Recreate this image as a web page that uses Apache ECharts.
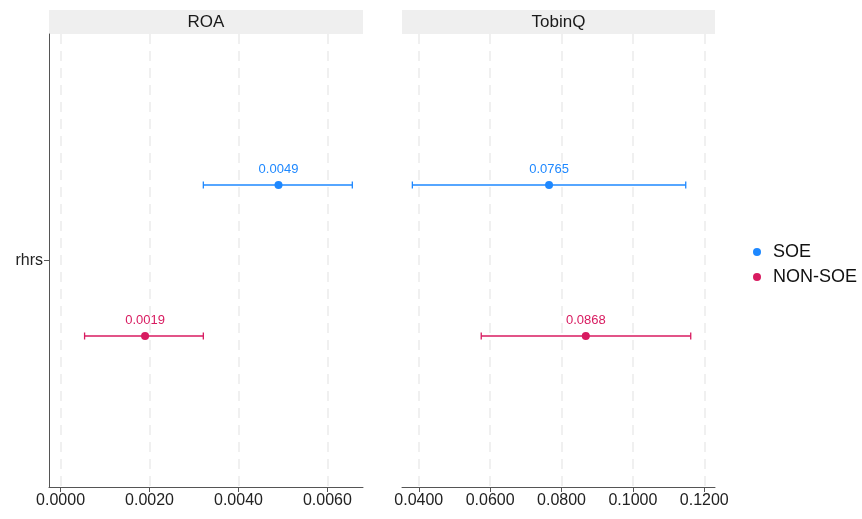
<!DOCTYPE html>
<html>
<head>
<meta charset="utf-8">
<script src="https://cdn.jsdelivr.net/npm/echarts@6/dist/echarts.min.js"></script>
<style>html,body{margin:0;padding:0;background:#fff;}#c{width:862px;height:519px;}</style>
</head>
<body>
<div id="c"></div>
<script>
// ---- data ----
const categories = ['rhrs'];
const panels = ['ROA', 'TobinQ'];
const groups = ['SOE', 'NON-SOE'];
const roaEst = [0.0049, 0.0019];
const roaLow = [0.00321, 0.00054];
const roaHigh = [0.00656, 0.00321];
const tqEst = [0.0765, 0.0868];
const tqLow = [0.0382, 0.0575];
const tqHigh = [0.1148, 0.1162];
const roaTicks = [0.0000, 0.0020, 0.0040, 0.0060];
const tqTicks = [0.0400, 0.0600, 0.0800, 0.1000, 0.1200];

// ---- style ----
const colors = ['#1E88FF', '#D81B60'];
const groupOffset = [1, -1];
const FONT = 'Liberation Sans, Arial, Helvetica, sans-serif';
const panelData = [
  { est: roaEst, low: roaLow, high: roaHigh, ticks: roaTicks, min: -0.00026, max: 0.0068, left: 49, right: 499 },
  { est: tqEst, low: tqLow, high: tqHigh, ticks: tqTicks, min: 0.0353, max: 0.1230, left: 402, right: 147 }
];

const chart = echarts.init(document.getElementById('c'), null, { renderer: 'canvas' });

const grids = [], xAxes = [], yAxes = [], series = [], graphics = [];
panelData.forEach((p, pi) => {
  grids.push({ left: p.left, right: p.right, top: 34, bottom: 32, containLabel: false });
  xAxes.push({
    type: 'value', gridIndex: pi, min: p.min, max: p.max,
    axisLine: { show: true, onZero: false, lineStyle: { color: '#555', width: 1 } },
    axisTick: { show: true, length: 5, customValues: p.ticks, lineStyle: { color: '#555' } },
    axisLabel: { customValues: p.ticks, color: '#222', fontSize: 16, fontFamily: FONT, margin: 6,
      formatter: v => v.toFixed(4) },
    splitLine: { show: true, lineStyle: { color: '#EBEBEB', width: 1.5, type: [10, 7] } }
  });
  yAxes.push({
    type: 'value', gridIndex: pi, min: -3, max: 3,
    axisLine: { show: pi === 0, onZero: false, lineStyle: { color: '#555', width: 1 } },
    axisTick: { show: pi === 0, length: 5, customValues: [0], lineStyle: { color: '#555' } },
    axisLabel: { show: pi === 0, customValues: [0], color: '#222', fontSize: 16, fontFamily: FONT, margin: 6,
      formatter: v => categories[Math.round(v)] || '' },
    splitLine: { show: false }
  });
  groups.forEach((g, gi) => {
    const yv = 0 + groupOffset[gi];
    series.push({
      name: g, type: 'custom', xAxisIndex: pi, yAxisIndex: pi,
      encode: { x: [0, 1], y: 2 },
      itemStyle: { color: colors[gi] },
      data: [[p.low[gi], p.high[gi], yv]],
      renderItem: (params, api) => {
        const y = api.value(2);
        const a = api.coord([api.value(0), y]);
        const b = api.coord([api.value(1), y]);
        const st = { stroke: colors[gi], lineWidth: 1.3 };
        return { type: 'group', children: [
          { type: 'line', shape: { x1: a[0], y1: a[1], x2: b[0], y2: b[1] }, style: st },
          { type: 'line', shape: { x1: a[0], y1: a[1] - 3.5, x2: a[0], y2: a[1] + 3.5 }, style: st },
          { type: 'line', shape: { x1: b[0], y1: b[1] - 3.5, x2: b[0], y2: b[1] + 3.5 }, style: st }
        ] };
      },
      silent: true, z: 2
    });
    series.push({
      name: g, type: 'scatter', xAxisIndex: pi, yAxisIndex: pi,
      symbol: 'circle', symbolSize: 8,
      itemStyle: { color: colors[gi], opacity: 1 },
      data: [[p.est[gi], yv]],
      label: { show: true, position: 'top', distance: 5, color: colors[gi], fontSize: 13, fontFamily: FONT,
        formatter: pr => pr.value[0].toFixed(4) },
      z: 3
    });
  });
  const w = 862 - p.left - p.right;
  graphics.push({ type: 'rect', left: p.left, top: 10, shape: { width: w, height: 24 }, style: { fill: '#EFEFEF' }, silent: true });
  graphics.push({ type: 'text', x: p.left + w / 2, y: 22, style: { text: panels[pi], fill: '#1a1a1a', font: '17px ' + FONT, align: 'center', verticalAlign: 'middle' }, silent: true });
});

chart.setOption({
  animation: false,
  backgroundColor: '#fff',
  grid: grids, xAxis: xAxes, yAxis: yAxes, series: series,
  graphic: graphics,
  legend: {
    orient: 'vertical', left: 748, top: 238,
    data: groups.map((g, gi) => ({ name: g, icon: 'circle', itemStyle: { color: colors[gi], opacity: 1 } })),
    itemWidth: 8, itemHeight: 8, itemGap: 7,
    textStyle: { fontSize: 18, fontFamily: FONT, color: '#111', lineHeight: 18, padding: [0, 0, 0, 7] }
  }
});
</script>
</body>
</html>
